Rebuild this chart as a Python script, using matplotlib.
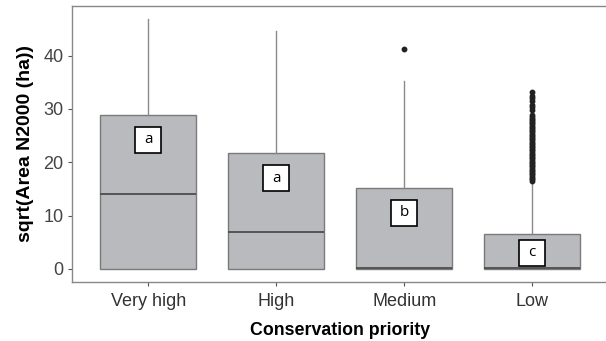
import matplotlib
matplotlib.use("Agg")
import matplotlib.pyplot as plt

categories = ["Very high", "High", "Medium", "Low"]
q1 = [0.0, 0.0, 0.0, 0.0]
medians = [14.1, 6.9, 0.1, 0.1]
q3 = [28.8, 21.8, 15.2, 6.6]
whisk_lo = [0.0, 0.0, 0.0, 0.0]
whisk_hi = [46.9, 44.7, 35.2, 16.2]
outliers_medium = [41.2]
outliers_low = [16.5, 16.8, 17.1, 17.4, 17.7, 18.0, 18.3, 18.6, 18.9, 19.2,
                19.5, 19.8, 20.1, 20.4, 20.7, 21.0, 21.3, 21.6, 21.9, 22.2,
                22.5, 22.8, 23.1, 23.4, 23.7, 24.0, 24.3, 24.6, 24.9, 25.2,
                25.5, 25.8, 26.1, 26.4, 26.7, 27.0, 27.3, 27.6, 27.9, 28.2,
                28.5, 28.8, 29.8, 30.3, 30.8, 31.4, 32.0, 32.5, 33.1]
outliers = [[], [], outliers_medium, outliers_low]
letters = ["a", "a", "b", "c"]
letter_y = [24.2, 17.0, 10.5, 3.0]
yticks = [0, 10, 20, 30, 40]

plt.rcParams["font.family"] = ["Liberation Sans", "DejaVu Sans"]

fig = plt.figure(figsize=(6.06, 3.41), dpi=100)
ax = fig.add_axes([0.1183, 0.174, 0.8817 + 0.005, 0.8084])

stats = []
for i, c in enumerate(categories):
    stats.append(dict(label=c, q1=q1[i], med=medians[i], q3=q3[i],
                      whislo=whisk_lo[i], whishi=whisk_hi[i], fliers=outliers[i]))

pos = list(range(len(categories)))
ax.bxp(stats, positions=pos, widths=0.75, patch_artist=True, showcaps=False,
       boxprops=dict(facecolor="#b9babd", edgecolor="#7a7a7a", linewidth=1.0),
       medianprops=dict(color="#4d4d4d", linewidth=1.3),
       whiskerprops=dict(color="#8a8a8a", linewidth=1.0),
       flierprops=dict(marker="o", markerfacecolor="#222222", markeredgecolor="#222222",
                       markersize=3.2, linestyle="none"))

for i, (lt, ly) in enumerate(zip(letters, letter_y)):
    ax.plot([i], [ly], marker="s", markersize=19.3, markerfacecolor="white",
            markeredgecolor="black", markeredgewidth=1.2, zorder=5)
    ax.text(i, ly, lt, ha="center", va="center", fontsize=11,
            family=["Open Sans", "DejaVu Sans"], zorder=6)

ax.set_xlim(-0.6, 3.6)
ax.set_ylim(-2.4, 49.3)
ax.set_xticks(pos)
ax.set_xticklabels(categories, fontsize=13, color="#333333")
ax.set_yticks(yticks)
ax.set_yticklabels([str(v) for v in yticks], fontsize=13, color="#444444")
ax.tick_params(axis="both", length=3, width=0.8, color="#555555")
ax.tick_params(axis="x", pad=5)
ax.tick_params(axis="y", pad=3)
for s in ax.spines.values():
    s.set_color("#888888")
    s.set_linewidth(1.0)
ax.set_xlabel("Conservation priority", fontsize=12.8, fontweight="bold", labelpad=8.5)
ax.set_ylabel("sqrt(Area N2000 (ha))", fontsize=14, fontweight="bold", labelpad=7)

fig.savefig("out.png", dpi=100)
